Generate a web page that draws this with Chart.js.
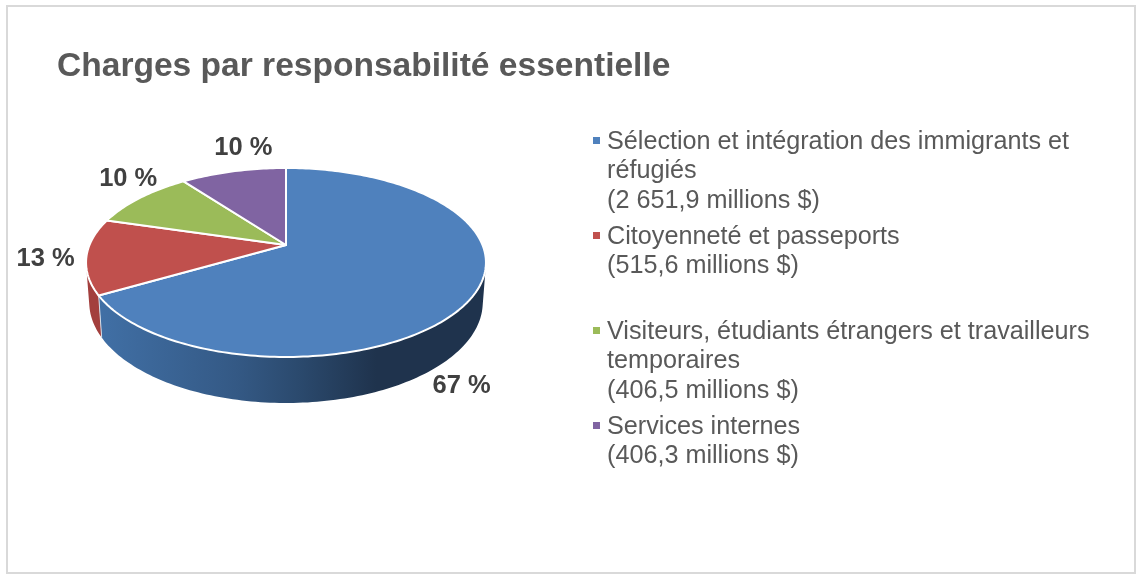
<!DOCTYPE html>
<html lang="fr">
<head>
<meta charset="utf-8">
<title>Charges par responsabilité essentielle</title>
<script src="https://cdn.jsdelivr.net/npm/chart.js@4/dist/chart.umd.min.js"></script>
<style>
    html, body { margin: 0; padding: 0; background: #fff; }
    #wrap { position: relative; width: 1142px; height: 579px; overflow: hidden; font-family: "Liberation Sans", Arial, sans-serif; }
    #frame { position: absolute; left: 6px; top: 5px; width: 1126px; height: 565px; border: 2px solid #d9d9d9; }
    #pie { position: absolute; left: 0; top: 0; }
    #title { position: absolute; left: 57px; top: 46px; margin: 0; font-size: 33.55px; line-height: 38px; font-weight: bold; color: #595959; white-space: nowrap; }
    .entry { position: absolute; left: 607px; width: 500px; font-size: 25.2px; line-height: 29.3px; color: #595959; }
    .entry i { position: absolute; left: -14px; top: 11px; width: 7px; height: 7px; }
</style>
</head>
<body>
<div id="wrap">
    <div id="frame"></div>
    <canvas id="pie" width="1142" height="579"></canvas>
    <h1 id="title">Charges par responsabilité essentielle</h1>
    <div id="legend"></div>
</div>
<script>
const titleText = "Charges par responsabilité essentielle";
const categories = [
    "Sélection et intégration des immigrants et réfugiés",
    "Citoyenneté et passeports",
    "Visiteurs, étudiants étrangers et travailleurs temporaires",
    "Services internes"
];
const expenses = [2651.9, 515.6, 406.5, 406.3];
const expenseLabels = ["2 651,9 millions $", "515,6 millions $", "406,5 millions $", "406,3 millions $"];

const topColors = ['#4f81bd', '#c0504d', '#9bbb59', '#8064a2'];
const wallColors = ['#2b4a6e', '#a33f3d', '#7d9a45', '#65497f'];
const legendTops = [126, 221, 316, 411];
const labelOffsets = [[-12, 91], [-41, 3], [-12, -19], [10, -23]];

// tilt of the pie: circle angle -> point on the perspective ellipse
const TILT = -0.185;
const FLATTEN = 0.4644;

function rimPoint(el, angle, lower) {
    const u = Math.cos(angle), v = Math.sin(angle);
    const w = 1 + TILT * v;
    let dx = el.outerRadius * u / w;
    let dy = el.outerRadius * FLATTEN * v / w;
    if (lower) {
        dx *= 0.984;
        dy = dy * 1.0645 + 38.8;
    }
    return { x: el.x + dx, y: el.y + dy };
}

function traceRim(ctx, el, from, to) {
    const steps = Math.max(2, Math.ceil(Math.abs(to - from) / 0.02));
    for (let i = 0; i <= steps; i++) {
        const p = rimPoint(el, from + (to - from) * i / steps, false);
        ctx.lineTo(p.x, p.y);
    }
}

// strips of one single path, all wound the same way, so the silhouette
// follows the tangent between both rims and no seams show
function fillWall(ctx, el, style) {
    const steps = Math.max(2, Math.ceil((el.endAngle - el.startAngle) / 0.02));
    ctx.beginPath();
    for (let i = 0; i < steps; i++) {
        const a0 = el.startAngle + (el.endAngle - el.startAngle) * i / steps;
        const a1 = el.startAngle + (el.endAngle - el.startAngle) * (i + 1) / steps;
        const quad = [rimPoint(el, a0, false), rimPoint(el, a1, false), rimPoint(el, a1, true), rimPoint(el, a0, true)];
        let area = 0;
        quad.forEach((p, n) => {
            const next = quad[(n + 1) % 4];
            area += p.x * next.y - next.x * p.y;
        });
        if (area < 0) quad.reverse();
        ctx.moveTo(quad[0].x, quad[0].y);
        quad.slice(1).forEach(p => ctx.lineTo(p.x, p.y));
        ctx.closePath();
    }
    ctx.fillStyle = style;
    ctx.fill();
}

const tiltedPie = {
    id: 'tiltedPie',
    beforeDatasetsDraw(chart) {
        const ctx = chart.ctx;
        const arcs = chart.getDatasetMeta(0).data;

        // side walls, back ones end up hidden under the top face
        for (let i = arcs.length - 1; i >= 0; i--) {
            const el = arcs[i];
            if (i === 0) {
                const grad = ctx.createLinearGradient(el.x - 190, 0, el.x + 90, 0);
                grad.addColorStop(0, '#4170a6');
                grad.addColorStop(0.5, '#345985');
                grad.addColorStop(0.72, '#2b4a6e');
                grad.addColorStop(1, '#1f334d');
                fillWall(ctx, el, grad);
            } else {
                fillWall(ctx, el, wallColors[i]);
            }
        }

        // seam on the front wall between blue and red
        const seam = arcs[0];
        const a = rimPoint(seam, seam.endAngle, false), b = rimPoint(seam, seam.endAngle, true);
        ctx.beginPath();
        ctx.moveTo(a.x, a.y);
        ctx.lineTo(b.x, b.y);
        ctx.strokeStyle = '#d5dce6';
        ctx.lineWidth = 1;
        ctx.stroke();

        // top face
        arcs.forEach((el, i) => {
            ctx.beginPath();
            ctx.moveTo(el.x, el.y);
            traceRim(ctx, el, el.startAngle, el.endAngle);
            ctx.closePath();
            ctx.fillStyle = topColors[i];
            ctx.fill();
            ctx.strokeStyle = '#ffffff';
            ctx.lineWidth = 2;
            ctx.lineJoin = 'round';
            ctx.stroke();
        });

        // percentage labels
        const total = expenses.reduce((s, v) => s + v, 0);
        ctx.font = 'bold 25.5px "Liberation Sans", Arial, sans-serif';
        ctx.fillStyle = '#404040';
        ctx.textAlign = 'center';
        ctx.textBaseline = 'middle';
        arcs.forEach((el, i) => {
            const p = rimPoint(el, (el.startAngle + el.endAngle) / 2, false);
            const text = Math.round(expenses[i] / total * 100) + ' %';
            ctx.fillText(text, p.x + labelOffsets[i][0], p.y + labelOffsets[i][1]);
        });
        return false;
    }
};

document.getElementById('title').textContent = titleText;

const legend = document.getElementById('legend');
categories.forEach((name, i) => {
    const entry = document.createElement('div');
    entry.className = 'entry';
    entry.style.top = legendTops[i] + 'px';
    entry.innerHTML = '<i style="background:' + topColors[i] + '"></i>' + name + '<br>(' + expenseLabels[i] + ')';
    legend.appendChild(entry);
});

new Chart(document.getElementById('pie'), {
    type: 'pie',
    data: {
        labels: categories,
        datasets: [{ data: expenses, backgroundColor: topColors, borderWidth: 0 }]
    },
    options: {
        responsive: false,
        animation: false,
        layout: { padding: { left: 89.5, right: 659.5, top: 48.5, bottom: 137.5 } },
        plugins: { legend: { display: false }, tooltip: { enabled: false } }
    },
    plugins: [tiltedPie]
});
</script>
</body>
</html>
